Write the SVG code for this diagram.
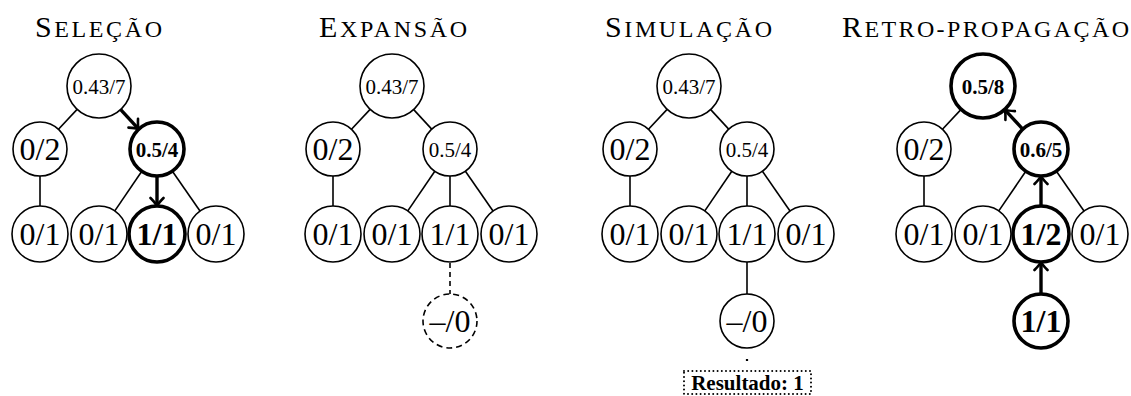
<svg xmlns="http://www.w3.org/2000/svg" width="1131" height="396" viewBox="0 0 1131 396">
<style>
.n{fill:#fff;stroke:#000;stroke-width:1.6}
.tk{stroke-width:3.6}
.ds{stroke-dasharray:6 4}
.e{stroke:#000;stroke-width:1.6;fill:none}
.ed{stroke:#000;stroke-width:1.6;stroke-dasharray:5 4;fill:none}
.a{stroke:#000;stroke-width:3.4;fill:none;marker-end:url(#arr)}
text{font-family:"Liberation Serif","Times New Roman",serif;fill:#000}
.lg{font-size:32px;text-anchor:middle}
.sm{font-size:21px;text-anchor:middle}
.b{font-weight:bold}
.ttl{font-size:24px}
.cap{font-size:30px}
</style>
<defs>
<marker id="arr" markerUnits="userSpaceOnUse" viewBox="-10 -8 12 16" markerWidth="12" markerHeight="16" refX="-2" refY="0" orient="auto">
<path d="M-8,-6.5 Q-3,-1.5 0,0 Q-3,1.5 -8,6.5" fill="none" stroke="#000" stroke-width="2.6" stroke-linecap="round" stroke-linejoin="round"/>
</marker>
</defs>

<!-- Titles -->
<g id="titles">
<text x="35" y="37" class="ttl" textLength="127" lengthAdjust="spacing"><tspan class="cap">S</tspan>ELEÇÃO</text>
<text x="319" y="37" class="ttl" textLength="148" lengthAdjust="spacing"><tspan class="cap">E</tspan>XPANSÃO</text>
<text x="605" y="37" class="ttl" textLength="167" lengthAdjust="spacing"><tspan class="cap">S</tspan>IMULAÇÃO</text>
<text x="842" y="37" class="ttl" textLength="287" lengthAdjust="spacing"><tspan class="cap">R</tspan>ETRO-PROPAGAÇÃO</text>
</g>

<!-- Panel 1: Seleção -->
<g id="panel1">
<g id="p1-connectors">
<line class="e" x1="77.1" y1="109.4" x2="58.5" y2="129.3"/>
<line class="a" x1="120.7" y1="109.6" x2="137.3" y2="127.6"/>
<line class="e" x1="40" y1="176" x2="40" y2="206"/>
<line class="e" x1="141.8" y1="171.3" x2="114.8" y2="210.9"/>
<line class="a" x1="157" y1="176" x2="157" y2="204"/>
<line class="e" x1="172.4" y1="171.2" x2="200" y2="211"/>
</g>
<g id="p1-root"><circle class="n" cx="99" cy="86" r="32"/><text class="sm" x="99" y="93.5">0.43/7</text></g>
<g id="p1-a"><circle class="n" cx="40" cy="149" r="27"/><text class="lg" x="40" y="160">0/2</text></g>
<g id="p1-b"><circle class="n tk" cx="157" cy="149" r="27"/><text class="sm b" x="157" y="156.5">0.5/4</text></g>
<g id="p1-c1"><circle class="n" cx="40" cy="234" r="28"/><text class="lg" x="40" y="245">0/1</text></g>
<g id="p1-c2"><circle class="n" cx="99" cy="234" r="28"/><text class="lg" x="99" y="245">0/1</text></g>
<g id="p1-c3"><circle class="n tk" cx="157" cy="234" r="28"/><text class="lg b" x="157" y="245">1/1</text></g>
<g id="p1-c4"><circle class="n" cx="216" cy="234" r="28"/><text class="lg" x="216" y="245">0/1</text></g>
</g>

<!-- Panel 2: Expansão -->
<g id="panel2" transform="translate(293,0)">
<g id="p2-connectors">
<line class="e" x1="77.1" y1="109.4" x2="58.5" y2="129.3"/>
<line class="e" x1="120.7" y1="109.6" x2="138.7" y2="129.1"/>
<line class="e" x1="40" y1="176" x2="40" y2="206"/>
<line class="e" x1="141.8" y1="171.3" x2="114.8" y2="210.9"/>
<line class="e" x1="157" y1="176" x2="157" y2="206"/>
<line class="e" x1="172.4" y1="171.2" x2="200" y2="211"/>
<line class="ed" x1="157" y1="263" x2="157" y2="294"/>
</g>
<g id="p2-root"><circle class="n" cx="99" cy="86" r="32"/><text class="sm" x="99" y="93.5">0.43/7</text></g>
<g id="p2-a"><circle class="n" cx="40" cy="149" r="27"/><text class="lg" x="40" y="160">0/2</text></g>
<g id="p2-b"><circle class="n" cx="157" cy="149" r="27"/><text class="sm" x="157" y="156.5">0.5/4</text></g>
<g id="p2-c1"><circle class="n" cx="40" cy="234" r="28"/><text class="lg" x="40" y="245">0/1</text></g>
<g id="p2-c2"><circle class="n" cx="99" cy="234" r="28"/><text class="lg" x="99" y="245">0/1</text></g>
<g id="p2-c3"><circle class="n" cx="157" cy="234" r="28"/><text class="lg" x="157" y="245">1/1</text></g>
<g id="p2-c4"><circle class="n" cx="216" cy="234" r="28"/><text class="lg" x="216" y="245">0/1</text></g>
<g id="p2-d"><circle class="n ds" cx="157" cy="321" r="27"/><text class="lg" x="157" y="332">–/0</text></g>
</g>

<!-- Panel 3: Simulação -->
<g id="panel3" transform="translate(590,0)">
<g id="p3-connectors">
<line class="e" x1="77.1" y1="109.4" x2="58.5" y2="129.3"/>
<line class="e" x1="120.7" y1="109.6" x2="138.7" y2="129.1"/>
<line class="e" x1="40" y1="176" x2="40" y2="206"/>
<line class="e" x1="141.8" y1="171.3" x2="114.8" y2="210.9"/>
<line class="e" x1="157" y1="176" x2="157" y2="206"/>
<line class="e" x1="172.4" y1="171.2" x2="200" y2="211"/>
<line class="e" x1="157" y1="262" x2="157" y2="294"/>
<line x1="157" y1="349" x2="157" y2="370" stroke="#000" stroke-width="2.2" stroke-dasharray="0 10 2 30"/>
</g>
<g id="p3-root"><circle class="n" cx="99" cy="86" r="32"/><text class="sm" x="99" y="93.5">0.43/7</text></g>
<g id="p3-a"><circle class="n" cx="40" cy="149" r="27"/><text class="lg" x="40" y="160">0/2</text></g>
<g id="p3-b"><circle class="n" cx="157" cy="149" r="27"/><text class="sm" x="157" y="156.5">0.5/4</text></g>
<g id="p3-c1"><circle class="n" cx="40" cy="234" r="28"/><text class="lg" x="40" y="245">0/1</text></g>
<g id="p3-c2"><circle class="n" cx="99" cy="234" r="28"/><text class="lg" x="99" y="245">0/1</text></g>
<g id="p3-c3"><circle class="n" cx="157" cy="234" r="28"/><text class="lg" x="157" y="245">1/1</text></g>
<g id="p3-c4"><circle class="n" cx="216" cy="234" r="28"/><text class="lg" x="216" y="245">0/1</text></g>
<g id="p3-d"><circle class="n" cx="157" cy="321" r="27"/><text class="lg" x="157" y="332">–/0</text></g>
<g id="p3-result"><rect x="94" y="371" width="127" height="23" fill="#fff" stroke="#000" stroke-width="2" stroke-dasharray="0 4.2" stroke-linecap="round"/><text class="sm b" x="157.5" y="389.5">Resultado: 1</text></g>
</g>

<!-- Panel 4: Retro-propagação -->
<g id="panel4" transform="translate(884,0)">
<g id="p4-connectors">
<line class="e" x1="77.1" y1="109.4" x2="58.5" y2="129.3"/>
<line class="a" x1="138.7" y1="129.1" x2="122.1" y2="111.1"/>
<line class="e" x1="40" y1="176" x2="40" y2="206"/>
<line class="e" x1="141.8" y1="171.3" x2="114.8" y2="210.9"/>
<line class="a" x1="157" y1="206" x2="157" y2="178"/>
<line class="e" x1="172.4" y1="171.2" x2="200" y2="211"/>
<line class="a" x1="157" y1="294" x2="157" y2="264"/>
</g>
<g id="p4-root"><circle class="n tk" cx="99" cy="86" r="32"/><text class="sm b" x="99" y="93.5">0.5/8</text></g>
<g id="p4-a"><circle class="n" cx="40" cy="149" r="27"/><text class="lg" x="40" y="160">0/2</text></g>
<g id="p4-b"><circle class="n tk" cx="157" cy="149" r="27"/><text class="sm b" x="157" y="156.5">0.6/5</text></g>
<g id="p4-c1"><circle class="n" cx="40" cy="234" r="28"/><text class="lg" x="40" y="245">0/1</text></g>
<g id="p4-c2"><circle class="n" cx="99" cy="234" r="28"/><text class="lg" x="99" y="245">0/1</text></g>
<g id="p4-c3"><circle class="n tk" cx="157" cy="234" r="28"/><text class="lg b" x="157" y="245">1/2</text></g>
<g id="p4-c4"><circle class="n" cx="216" cy="234" r="28"/><text class="lg" x="216" y="245">0/1</text></g>
<g id="p4-d"><circle class="n tk" cx="157" cy="321" r="27"/><text class="lg b" x="157" y="332">1/1</text></g>
</g>
</svg>
